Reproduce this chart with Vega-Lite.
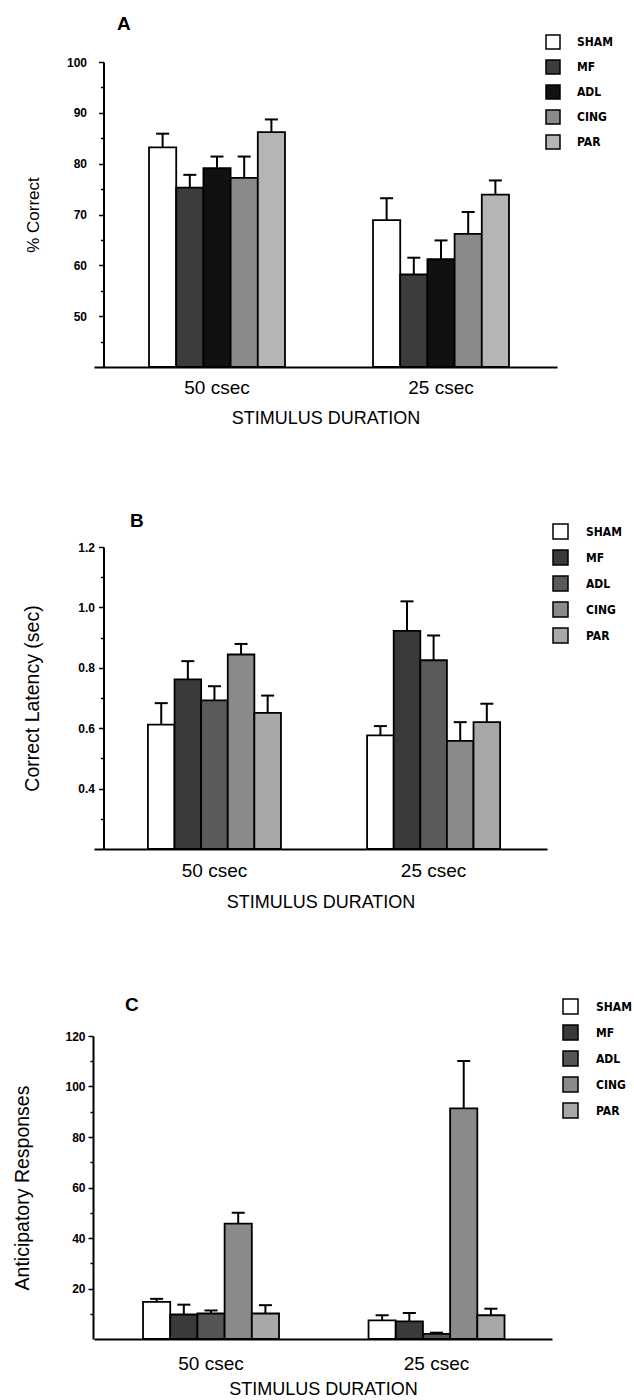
{
  "$schema": "https://vega.github.io/schema/vega-lite/v6.json",
  "background": "white",
  "padding": {"left": 12, "top": 15, "right": 0, "bottom": 0},
  "spacing": 85,
  "config": {
    "view": {"stroke": null},
    "font": "Liberation Sans",
    "axis": {"domainColor": "black", "tickColor": "black", "labelColor": "black", "titleColor": "black", "grid": false, "domainWidth": 2, "tickWidth": 1.5},
    "title": {"fontSize": 19, "fontWeight": "bold", "color": "black", "anchor": "start", "frame": "group"}
  },
  "datasets": {
    "d": [
      {"panel": "A", "duration": "50 csec", "group": "SHAM", "value": 83.2, "hi": 85.9},
      {"panel": "A", "duration": "50 csec", "group": "MF", "value": 75.3, "hi": 77.8},
      {"panel": "A", "duration": "50 csec", "group": "ADL", "value": 79.1, "hi": 81.4},
      {"panel": "A", "duration": "50 csec", "group": "CING", "value": 77.2, "hi": 81.4},
      {"panel": "A", "duration": "50 csec", "group": "PAR", "value": 86.2, "hi": 88.7},
      {"panel": "A", "duration": "25 csec", "group": "SHAM", "value": 68.9, "hi": 73.2},
      {"panel": "A", "duration": "25 csec", "group": "MF", "value": 58.2, "hi": 61.5},
      {"panel": "A", "duration": "25 csec", "group": "ADL", "value": 61.2, "hi": 64.9},
      {"panel": "A", "duration": "25 csec", "group": "CING", "value": 66.2, "hi": 70.5},
      {"panel": "A", "duration": "25 csec", "group": "PAR", "value": 73.9, "hi": 76.7},
      {"panel": "B", "duration": "50 csec", "group": "SHAM", "value": 0.612, "hi": 0.683},
      {"panel": "B", "duration": "50 csec", "group": "MF", "value": 0.762, "hi": 0.822},
      {"panel": "B", "duration": "50 csec", "group": "ADL", "value": 0.692, "hi": 0.739},
      {"panel": "B", "duration": "50 csec", "group": "CING", "value": 0.844, "hi": 0.879},
      {"panel": "B", "duration": "50 csec", "group": "PAR", "value": 0.651, "hi": 0.708},
      {"panel": "B", "duration": "25 csec", "group": "SHAM", "value": 0.576, "hi": 0.607},
      {"panel": "B", "duration": "25 csec", "group": "MF", "value": 0.922, "hi": 1.02},
      {"panel": "B", "duration": "25 csec", "group": "ADL", "value": 0.825, "hi": 0.907},
      {"panel": "B", "duration": "25 csec", "group": "CING", "value": 0.558, "hi": 0.62},
      {"panel": "B", "duration": "25 csec", "group": "PAR", "value": 0.62, "hi": 0.681},
      {"panel": "C", "duration": "50 csec", "group": "SHAM", "value": 14.7, "hi": 15.9},
      {"panel": "C", "duration": "50 csec", "group": "MF", "value": 9.7, "hi": 13.6},
      {"panel": "C", "duration": "50 csec", "group": "ADL", "value": 10.1, "hi": 11.3},
      {"panel": "C", "duration": "50 csec", "group": "CING", "value": 45.7, "hi": 50.0},
      {"panel": "C", "duration": "50 csec", "group": "PAR", "value": 10.1, "hi": 13.4},
      {"panel": "C", "duration": "25 csec", "group": "SHAM", "value": 7.4, "hi": 9.4},
      {"panel": "C", "duration": "25 csec", "group": "MF", "value": 7.0, "hi": 10.3},
      {"panel": "C", "duration": "25 csec", "group": "ADL", "value": 2.0, "hi": 2.5},
      {"panel": "C", "duration": "25 csec", "group": "CING", "value": 91.3, "hi": 110.1},
      {"panel": "C", "duration": "25 csec", "group": "PAR", "value": 9.4, "hi": 12.0}
    ]
  },
  "resolve": {"scale": {"x": "independent", "y": "independent", "color": "independent", "xOffset": "independent"}, "legend": {"color": "independent"}},
  "vconcat": [
    {
      "width": 463, "height": 305,
      "title": {"text": "A", "dx": 23, "offset": 0},
      "data": {"name": "d"},
      "transform": [{"filter": "datum.panel == 'A'"}],
      "resolve": {"axis": {"y": "independent"}},
      "encoding": {
        "x": {"field": "duration", "type": "nominal", "sort": ["50 csec", "25 csec"], "scale": {"paddingInner": 0.393, "paddingOuter": 0.23, "align": 0.534},
              "axis": {"title": "STIMULUS DURATION", "labelAngle": 0, "ticks": false, "labelFontSize": 19, "labelPadding": 11, "titleFontSize": 18, "titleFontWeight": "normal", "titlePadding": 12}},
        "xOffset": {"field": "group", "type": "nominal", "sort": ["SHAM", "MF", "ADL", "CING", "PAR"], "scale": {"paddingInner": 0, "paddingOuter": 0}}
      },
      "layer": [
        {"mark": {"type": "bar", "stroke": "black", "strokeWidth": 1.8},
         "encoding": {
           "y": {"field": "value", "type": "quantitative", "title": "% Correct", "scale": {"domain": [40, 100], "nice": false, "zero": false},
                 "axis": {"orient": "left", "values": [50, 60, 70, 80, 90, 100],
                          "tickSize": 5, "offset": -9.5, "labelFontSize": 12, "labelFontWeight": "bold", "labelPadding": 12, "titleFontSize": 17, "titleFontWeight": "normal", "titlePadding": 24}},
           "y2": {"datum": 40},
           "color": {"field": "group", "type": "nominal", "sort": ["SHAM", "MF", "ADL", "CING", "PAR"],
                     "scale": {"domain": ["SHAM", "MF", "ADL", "CING", "PAR"], "range": ["#ffffff", "#3c3c3c", "#111111", "#8a8a8a", "#b5b5b5"]},
                     "legend": {"orient": "none", "legendX": 451, "legendY": -28, "title": null, "symbolType": "square", "symbolSize": 196, "symbolStrokeColor": "black", "symbolStrokeWidth": 1.5, "symbolOpacity": 1, "labelFontSize": 12, "labelFontWeight": "bold", "labelFont": "Liberation Sans Narrow, DejaVu Sans Condensed, Liberation Sans", "labelOffset": 16, "rowPadding": 5, "padding": 0}}
         }},
        {"mark": {"type": "rule", "strokeWidth": 2, "color": "black"},
         "encoding": {"y": {"field": "value", "type": "quantitative", "title": null,
                            "axis": {"orient": "left", "values": [45, 55, 65, 75, 85, 95], "labels": false, "domain": false, "tickSize": 3, "offset": -9.5, "title": null}},
                      "y2": {"field": "hi"}}},
        {"mark": {"type": "tick", "thickness": 2, "size": 13, "color": "black", "opacity": 1},
         "encoding": {"y": {"field": "hi", "type": "quantitative", "axis": null}}}
      ]
    },
    {
      "width": 453, "height": 302,
      "title": {"text": "B", "dx": 36, "offset": -8},
      "data": {"name": "d"},
      "transform": [{"filter": "datum.panel == 'B'"}],
      "resolve": {"axis": {"y": "independent"}},
      "encoding": {
        "x": {"field": "duration", "type": "nominal", "sort": ["50 csec", "25 csec"], "scale": {"paddingInner": 0.393, "paddingOuter": 0.23, "align": 0.535},
              "axis": {"title": "STIMULUS DURATION", "labelAngle": 0, "ticks": false, "labelFontSize": 19, "labelPadding": 12, "titleFontSize": 18, "titleFontWeight": "normal", "titlePadding": 13}},
        "xOffset": {"field": "group", "type": "nominal", "sort": ["SHAM", "MF", "ADL", "CING", "PAR"], "scale": {"paddingInner": 0, "paddingOuter": 0}}
      },
      "layer": [
        {"mark": {"type": "bar", "stroke": "black", "strokeWidth": 1.8},
         "encoding": {
           "y": {"field": "value", "type": "quantitative", "title": "Correct Latency (sec)", "scale": {"domain": [0.2, 1.2], "nice": false, "zero": false},
                 "axis": {"orient": "left", "values": [0.4, 0.6, 0.8, 1.0, 1.2], "format": ".1f",
                          "tickSize": 5, "offset": -9.5, "labelFontSize": 12, "labelFontWeight": "bold", "labelPadding": 4, "titleFontSize": 19.5, "titleFontWeight": "normal", "titlePadding": 35}},
           "y2": {"datum": 0.2},
           "color": {"field": "group", "type": "nominal", "sort": ["SHAM", "MF", "ADL", "CING", "PAR"],
                     "scale": {"domain": ["SHAM", "MF", "ADL", "CING", "PAR"], "range": ["#ffffff", "#3a3a3a", "#5a5a5a", "#8a8a8a", "#a8a8a8"]},
                     "legend": {"orient": "none", "legendX": 458, "legendY": -24, "title": null, "symbolType": "square", "symbolSize": 225, "symbolStrokeColor": "black", "symbolStrokeWidth": 1.5, "symbolOpacity": 1, "labelFontSize": 12, "labelFontWeight": "bold", "labelFont": "Liberation Sans Narrow, DejaVu Sans Condensed, Liberation Sans", "labelOffset": 17, "rowPadding": 5, "padding": 0}}
         }},
        {"mark": {"type": "rule", "strokeWidth": 2, "color": "black"},
         "encoding": {"y": {"field": "value", "type": "quantitative", "title": null,
                            "axis": {"orient": "left", "values": [0.3, 0.5, 0.7, 0.9, 1.1], "labels": false, "domain": false, "tickSize": 3, "offset": -9.5, "title": null}},
                      "y2": {"field": "hi"}}},
        {"mark": {"type": "tick", "thickness": 2, "size": 13, "color": "black", "opacity": 1},
         "encoding": {"y": {"field": "hi", "type": "quantitative", "axis": null}}}
      ]
    },
    {
      "width": 458, "height": 303,
      "title": {"text": "C", "dx": 31, "offset": -17},
      "data": {"name": "d"},
      "transform": [{"filter": "datum.panel == 'C'"}],
      "resolve": {"axis": {"y": "independent"}},
      "encoding": {
        "x": {"field": "duration", "type": "nominal", "sort": ["50 csec", "25 csec"], "scale": {"paddingInner": 0.397, "paddingOuter": 0.214, "align": 0.508},
              "axis": {"title": "STIMULUS DURATION", "labelAngle": 0, "ticks": false, "labelFontSize": 19, "labelPadding": 15, "titleFontSize": 18, "titleFontWeight": "normal", "titlePadding": 7}},
        "xOffset": {"field": "group", "type": "nominal", "sort": ["SHAM", "MF", "ADL", "CING", "PAR"], "scale": {"paddingInner": 0, "paddingOuter": 0}}
      },
      "layer": [
        {"mark": {"type": "bar", "stroke": "black", "strokeWidth": 1.8},
         "encoding": {
           "y": {"field": "value", "type": "quantitative", "title": "Anticipatory Responses", "scale": {"domain": [0, 120], "nice": false},
                 "axis": {"orient": "left", "values": [20, 40, 60, 80, 100, 120],
                          "tickSize": 5, "offset": 1, "labelFontSize": 12, "labelFontWeight": "bold", "labelPadding": 3, "titleFontSize": 19.5, "titleFontWeight": "normal", "titlePadding": 32}},
           "color": {"field": "group", "type": "nominal", "sort": ["SHAM", "MF", "ADL", "CING", "PAR"],
                     "scale": {"domain": ["SHAM", "MF", "ADL", "CING", "PAR"], "range": ["#ffffff", "#3a3a3a", "#555555", "#8a8a8a", "#a8a8a8"]},
                     "legend": {"orient": "none", "legendX": 468, "legendY": -38, "title": null, "symbolType": "square", "symbolSize": 225, "symbolStrokeColor": "black", "symbolStrokeWidth": 1.5, "symbolOpacity": 1, "labelFontSize": 12, "labelFontWeight": "bold", "labelFont": "Liberation Sans Narrow, DejaVu Sans Condensed, Liberation Sans", "labelOffset": 17, "rowPadding": 5, "padding": 0}}
         }},
        {"mark": {"type": "rule", "strokeWidth": 2, "color": "black"},
         "encoding": {"y": {"field": "value", "type": "quantitative", "title": null,
                            "axis": {"orient": "left", "values": [10, 30, 50, 70, 90, 110], "labels": false, "domain": false, "tickSize": 3, "offset": 1, "title": null}},
                      "y2": {"field": "hi"}}},
        {"mark": {"type": "tick", "thickness": 2, "size": 13, "color": "black", "opacity": 1},
         "encoding": {"y": {"field": "hi", "type": "quantitative", "axis": null}}}
      ]
    }
  ]
}
